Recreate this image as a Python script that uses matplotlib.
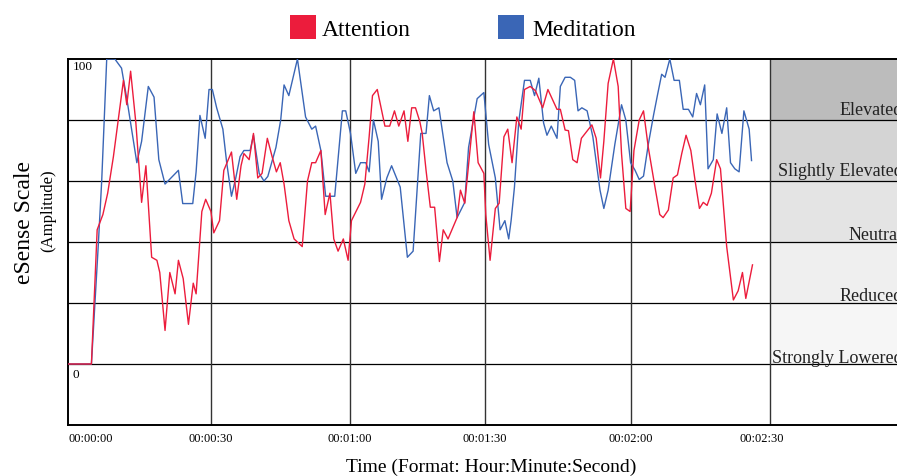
import matplotlib
matplotlib.use('Agg')
import matplotlib.pyplot as plt
from matplotlib.patches import Rectangle
import matplotlib.transforms as mtrans

plt.rcParams['font.family'] = ['Liberation Serif', 'DejaVu Serif']

# ---- data (x = sample position, tick positions given below) ----
att_x = [0, 4.9, 6.1, 7.3, 8.3, 9.5, 11.6, 12.3, 13.1, 14.2, 15.4, 16.3, 17.5, 18.6, 19.2, 20.3,
         21.3, 22.4, 23.1, 24.1, 25.2, 26.2, 26.8, 28.0, 28.8, 29.9, 30.5, 31.7, 32.6, 34.2, 35.3,
         36.2, 36.8, 37.9, 38.8, 39.7, 40.6, 41.7, 42.7, 43.6, 44.4, 45.2, 46.2, 47.3, 49.0, 50.1,
         51.0, 51.8, 52.9, 53.8, 54.8, 55.6, 56.5, 57.6, 58.6, 59.3, 61.2, 62.1, 63.0, 63.7, 64.7,
         66.3, 67.3, 68.3, 69.2, 70.3, 71.1, 71.9, 72.7, 73.6, 74.1, 74.9, 75.8, 76.7, 77.7, 78.5,
         79.5, 81.4, 82.1, 83.0, 84.9, 85.8, 87.0, 87.4, 88.3, 89.4, 90.2, 91.2, 92.0, 92.9, 93.9,
         94.8, 95.5, 96.7, 97.8, 99.3, 100.4, 102.3, 103.0, 104.0, 104.7, 105.6, 106.5, 107.4, 109.6,
         110.5, 111.4, 112.1, 113.0, 114.1, 115.1, 115.8, 116.7, 117.6, 118.4, 119.5, 120.4, 121.4,
         122.8, 123.8, 124.5, 125.6, 126.6, 127.5, 128.4, 129.3, 130.3, 131.2, 132.1, 132.9, 133.7,
         134.6, 135.7, 136.5, 137.8, 139.2, 140.2, 141.1, 141.8, 143.2]
att_v = [0, 0, 44, 49, 56, 68, 93, 85, 96, 79, 53, 65, 35, 34, 30, 11,
         30, 23, 34, 28, 13, 26.5, 23, 50, 54, 50, 43, 47, 63.5, 69.5, 54,
         65, 69, 67, 75.6, 61, 62.5, 74, 68, 63, 66, 59, 47, 41, 38.5, 60,
         66, 66, 70, 49, 56, 41, 37, 41, 34, 47, 53, 59, 74.5, 88, 90,
         78, 78, 83, 78, 83, 73, 84, 84, 79.5, 75.6, 63.6, 51.4, 51.4, 33.6, 44,
         41, 48, 57, 52.7, 82.7, 66, 62.5, 49, 34, 51, 52.7, 74.5, 77, 66, 81,
         77, 90, 91, 89.6, 84, 90, 83.5, 83.5, 76.7, 76.5, 67, 66, 74, 78.4,
         74, 61, 73, 92, 100, 91, 69, 51, 50, 70, 80, 83, 71,
         58, 49, 48, 50.5, 61, 62, 69, 75, 70, 60, 51, 53, 52,
         56, 67, 64, 38.5, 21, 24, 30, 21.5, 32.5]

med_x = [0, 4.9, 6.3, 7.05, 8.1, 9.8, 11.2, 12.3, 14.4, 15.4, 16.8, 18.0, 19.0, 20.3, 23.1, 24.0,
         26.1, 26.8, 27.6, 28.7, 29.5, 30.2, 31.1, 32.4, 33.2, 34.2, 35.1, 36.0,
         36.8, 38.1, 38.8, 40.0, 41.0, 41.8, 43.5, 44.5, 45.2, 46.2, 48.0, 49.7, 51.0, 51.8, 52.9,
         53.9, 54.8, 55.8, 57.4, 58.1, 59.1, 60.2, 61.2, 62.3, 63.0, 63.9, 64.9, 65.6, 66.7, 67.7,
         69.5, 71.0, 72.2, 73.8,
         74.9, 75.6, 76.5, 77.6, 79.3, 80.5, 81.4, 83.0, 83.8, 85.6, 87.0, 88.0, 89.4, 90.4, 91.4,
         92.2, 92.7, 93.4, 94.3, 95.5, 96.7, 97.6, 98.5, 99.5, 100.2, 101.1, 102.3, 103.0, 104.0,
         105.1, 106.0, 106.7, 107.5, 108.6, 109.8,
         111.3, 112.1, 113.0, 114.4, 115.8, 116.7, 117.7, 118.6, 119.5, 120.4, 121.4, 122.5, 123.3,
         124.2, 124.9, 125.9, 126.8, 127.9, 128.7, 129.8, 130.7, 131.5, 132.3, 133.2, 133.9, 135.0,
         135.8, 136.8, 137.8, 138.6, 139.5, 140.4, 141.4, 142.5, 143.0]
med_v = [0, 0, 38, 60, 100, 100, 97, 87, 66, 73, 91, 87.5, 67, 59, 63.5, 52.6,
         52.6, 63, 81.5, 74, 90, 90, 84, 77, 66, 55, 61, 68,
         70, 70, 75, 62.5, 60, 61.5, 71, 80, 91.5, 88, 100, 81, 77, 78, 70,
         55, 55, 55, 83, 83, 75.6, 62.5, 66, 66, 63, 80, 73, 54, 61, 65,
         58, 35, 37, 75.6,
         75.6, 88, 83, 84, 66, 60, 48, 53, 71, 87, 89, 72, 61, 44, 47,
         41, 47, 58, 79.5, 93, 93, 88, 93.7, 79, 75, 78, 74, 91, 94,
         94, 93, 83, 84, 83, 74.5,
         57, 51, 57, 72, 85, 80, 66, 63.6, 60.5, 61.6, 72, 81.6, 88,
         95, 94, 100, 93, 93, 83.5, 83.5, 81, 88.7, 85, 91.5, 64, 67,
         82, 75.6, 84, 66, 64, 63, 83, 77, 66.7]

tick_pos = [0, 29.9, 59.0, 87.2, 117.8, 146.9]
tick_labels = ["00:00:00", "00:00:30", "00:01:00", "00:01:30", "00:02:00", "00:02:30"]

band_lows = [0, 20, 40, 60, 80]
band_labels = ["Strongly Lowered", "Reduced", "Neutral", "Slightly Elevated", "Elevated"]
band_colors = ["#f6f6f6", "#efefef", "#e4e4e4", "#d4d4d4", "#bcbcbc"]
band_label_y = [0.5, 21, 41, 62, 82]

RED = "#ec1c3c"
BLUE = "#3a66b6"

W, H = 897, 477
fig = plt.figure(figsize=(W / 100, H / 100), dpi=100)

px_per_unit = 4.78
ax_left_px, ax_right_px = 68, 930
ax_top_px, ax_bot_px = 60, 426
ax = fig.add_axes([ax_left_px / W, (H - ax_bot_px) / H,
                   (ax_right_px - ax_left_px) / W, (ax_bot_px - ax_top_px) / H])
xmax = (ax_right_px - ax_left_px) / px_per_unit
ax.set_xlim(0, xmax)
ax.set_ylim(-20, 100)

panel_x0 = tick_pos[-1]
for lo, col in zip(band_lows, band_colors):
    ax.add_patch(Rectangle((panel_x0, lo), xmax - panel_x0, 20, facecolor=col,
                           edgecolor='none', zorder=0))

for lo in band_lows:
    ax.axhline(lo, color='black', lw=0.9, zorder=1)
for tp in tick_pos[1:]:
    ax.axvline(tp, color='#333333', lw=1.0, zorder=1)

label_x = (903 - ax_left_px) / px_per_unit
for lab, ly in zip(band_labels, band_label_y):
    ax.text(label_x, ly, lab, ha='right', va='baseline', fontsize=13, color='#222222',
            zorder=2, clip_on=False)

ax.plot(med_x, med_v, color=BLUE, lw=1.0, zorder=3)
ax.plot(att_x, att_v, color=RED, lw=1.0, zorder=4)

for s in ['top', 'left', 'bottom']:
    ax.spines[s].set_linewidth(1.4)
    ax.spines[s].set_color('black')
ax.spines['right'].set_visible(False)

ax.set_yticks([])
ax.text(1.0, 97.6, "100", ha='left', va='center', fontsize=9.5)
ax.text(1.0, -3.3, "0", ha='left', va='center', fontsize=9.5)

ax.set_xticks(tick_pos)
ax.set_xticklabels(tick_labels, fontsize=9)
ax.tick_params(axis='x', length=0, pad=5)
tl = ax.get_xticklabels()
tl[0].set_ha('left')
tl[-1].set_transform(tl[-1].get_transform() + mtrans.ScaledTranslation(-8 / 100, 0, fig.dpi_scale_trans))

fig.text(491 / W, 1 - 467 / H, "Time (Format: Hour:Minute:Second)", ha='center', va='center', fontsize=14)
fig.text(25 / W, 1 - 222 / H, "eSense Scale", rotation=90, ha='center', va='center', fontsize=17)
fig.text(48 / W, 1 - 211 / H, "(Amplitude)", rotation=90, ha='center', va='center', fontsize=12)

# legend
fig.patches.append(Rectangle((290 / W, 1 - 40 / H), 26 / W, 24 / H, facecolor=RED,
                             edgecolor='none', transform=fig.transFigure, figure=fig))
fig.text(322 / W, 1 - 31 / H, "Attention", ha='left', va='center', fontsize=17)
fig.patches.append(Rectangle((498 / W, 1 - 40 / H), 26 / W, 24 / H, facecolor=BLUE,
                             edgecolor='none', transform=fig.transFigure, figure=fig))
fig.text(532 / W, 1 - 31 / H, "Meditation", ha='left', va='center', fontsize=17)

fig.savefig("out.png", dpi=100)
